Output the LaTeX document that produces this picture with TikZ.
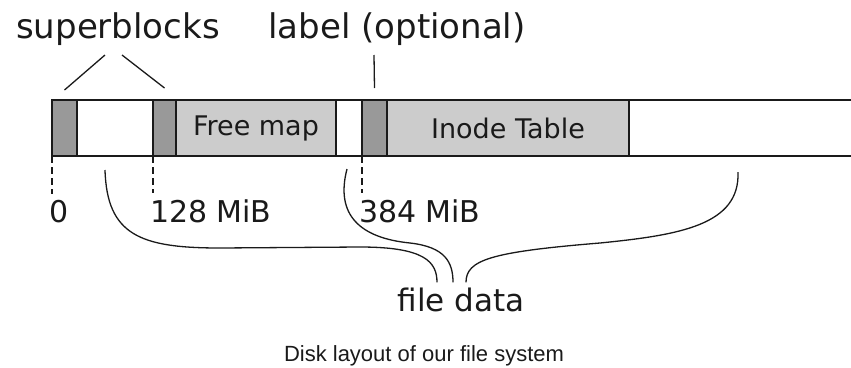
\documentclass[tikz,border=0pt]{standalone}
\usepackage{fontspec}
\setmainfont{DejaVu Sans}
\newfontfamily\captionfont{Liberation Sans}
\usepackage{tikz}
\usetikzlibrary{positioning}
\definecolor{sbfill}{HTML}{999999}
\definecolor{metafill}{HTML}{CCCCCC}
\definecolor{inkcol}{HTML}{1A1A1A}

\begin{document}
\begin{tikzpicture}[
        x=1pt, y=-1pt,
        every node/.style={outer sep=0pt, text=inkcol},
        seg/.style={draw=inkcol, line width=1.3pt, minimum height=56pt, inner sep=0pt},
        sblock/.style={seg, fill=sbfill, minimum width=25pt},
        gapseg/.style={seg, fill=white},
        metaseg/.style={seg, fill=metafill, font=\fontsize{27}{30}\selectfont},
        bigtxt/.style={inner sep=0pt, font=\fontsize{34}{40}\selectfont},
        offtxt/.style={inner sep=0pt, font=\fontsize{30}{34}\selectfont},
        pointer/.style={draw=inkcol, line width=1.3pt},
        tick/.style={draw=inkcol, line width=1.3pt, dash pattern=on 7pt off 4pt},
        brace/.style={draw=inkcol, line width=1.3pt},
    ]

    \useasboundingbox (0,0) rectangle (851,367);

    % the disk
    \node[sblock, anchor=west] at (52,128) (sb1) {};
    \node[gapseg, minimum width=76pt, right=0pt of sb1] (gap1) {};
    \node[sblock, minimum width=23pt, right=0pt of gap1] (sb2) {};
    \node[metaseg, minimum width=160pt, right=0pt of sb2] (freemap) {Free map};
    \node[gapseg, minimum width=26pt, right=0pt of freemap] (gap2) {};
    \node[sblock, right=0pt of gap2] (lbl) {};
    \node[metaseg, minimum width=242pt, right=0pt of lbl] (inode) {Inode Table};
    \coordinate (barend) at (851,128);
    \draw[seg] (inode.north east) -- (inode.north east -| barend);
    \draw[seg] (inode.south east) -- (inode.south east -| barend);

    % labels
    \node[bigtxt, anchor=base] at (118,38) (superblocks) {superblocks};
    \node[bigtxt, anchor=base] at (397,38) (optlabel) {label (optional)};
    \node[offtxt, anchor=base west] at (49,222) (zero) {0};
    \node[offtxt, anchor=base west] at (150,222) (off128) {128 MiB};
    \node[offtxt, anchor=base west] at (359,222) (off384) {384 MiB};
    \node[inner sep=0pt, font=\fontsize{31}{36}\selectfont, anchor=base] at (461,311) (filedata) {file data};
    \node[inner sep=0pt, font=\captionfont\fontsize{22}{26}\selectfont, anchor=base] at (424,361) (caption) {Disk layout of our file system};

    \coordinate (sbtip1) at (105,55);
    \coordinate (sbtip2) at (122,55);
    \coordinate (lbltip) at (374,55);
    \draw[pointer] (sbtip1) -- ([yshift=10pt]sb1.north);
    \draw[pointer] (sbtip2) -- ([yshift=12pt]sb2.north);
    \draw[pointer] (lbltip) -- ([yshift=12pt]lbl.north);

    \draw[tick, shorten >=6pt] (sb1.south west) -- (sb1.south west |- zero.north);
    \draw[tick, shorten >=6pt] (sb2.south west) -- (sb2.south west |- off128.north);
    \draw[tick, shorten >=6pt] (lbl.south west) -- (lbl.south west |- off384.north);

    % file data braces
    \coordinate (fd1) at (105,170);
    \coordinate (fd2) at (347,169);
    \coordinate (fd3) at (738,172);
    \draw[brace] (fd1) .. controls (107,235) and (140,248) .. (220,248)
        -- (360,247) .. controls (425,247) and (437,262) .. ([xshift=-24pt,yshift=5pt]filedata.north);
    \draw[brace] (fd2) .. controls (335,215) and (360,238) .. (410,243)
        .. controls (445,247) and (453,262) .. ([xshift=-8pt,yshift=5pt]filedata.north);
    \draw[brace] (fd3) .. controls (740,225) and (680,235) .. (600,243)
        .. controls (490,252) and (466,260) .. ([xshift=5pt,yshift=5pt]filedata.north);

\end{tikzpicture}
\end{document}
